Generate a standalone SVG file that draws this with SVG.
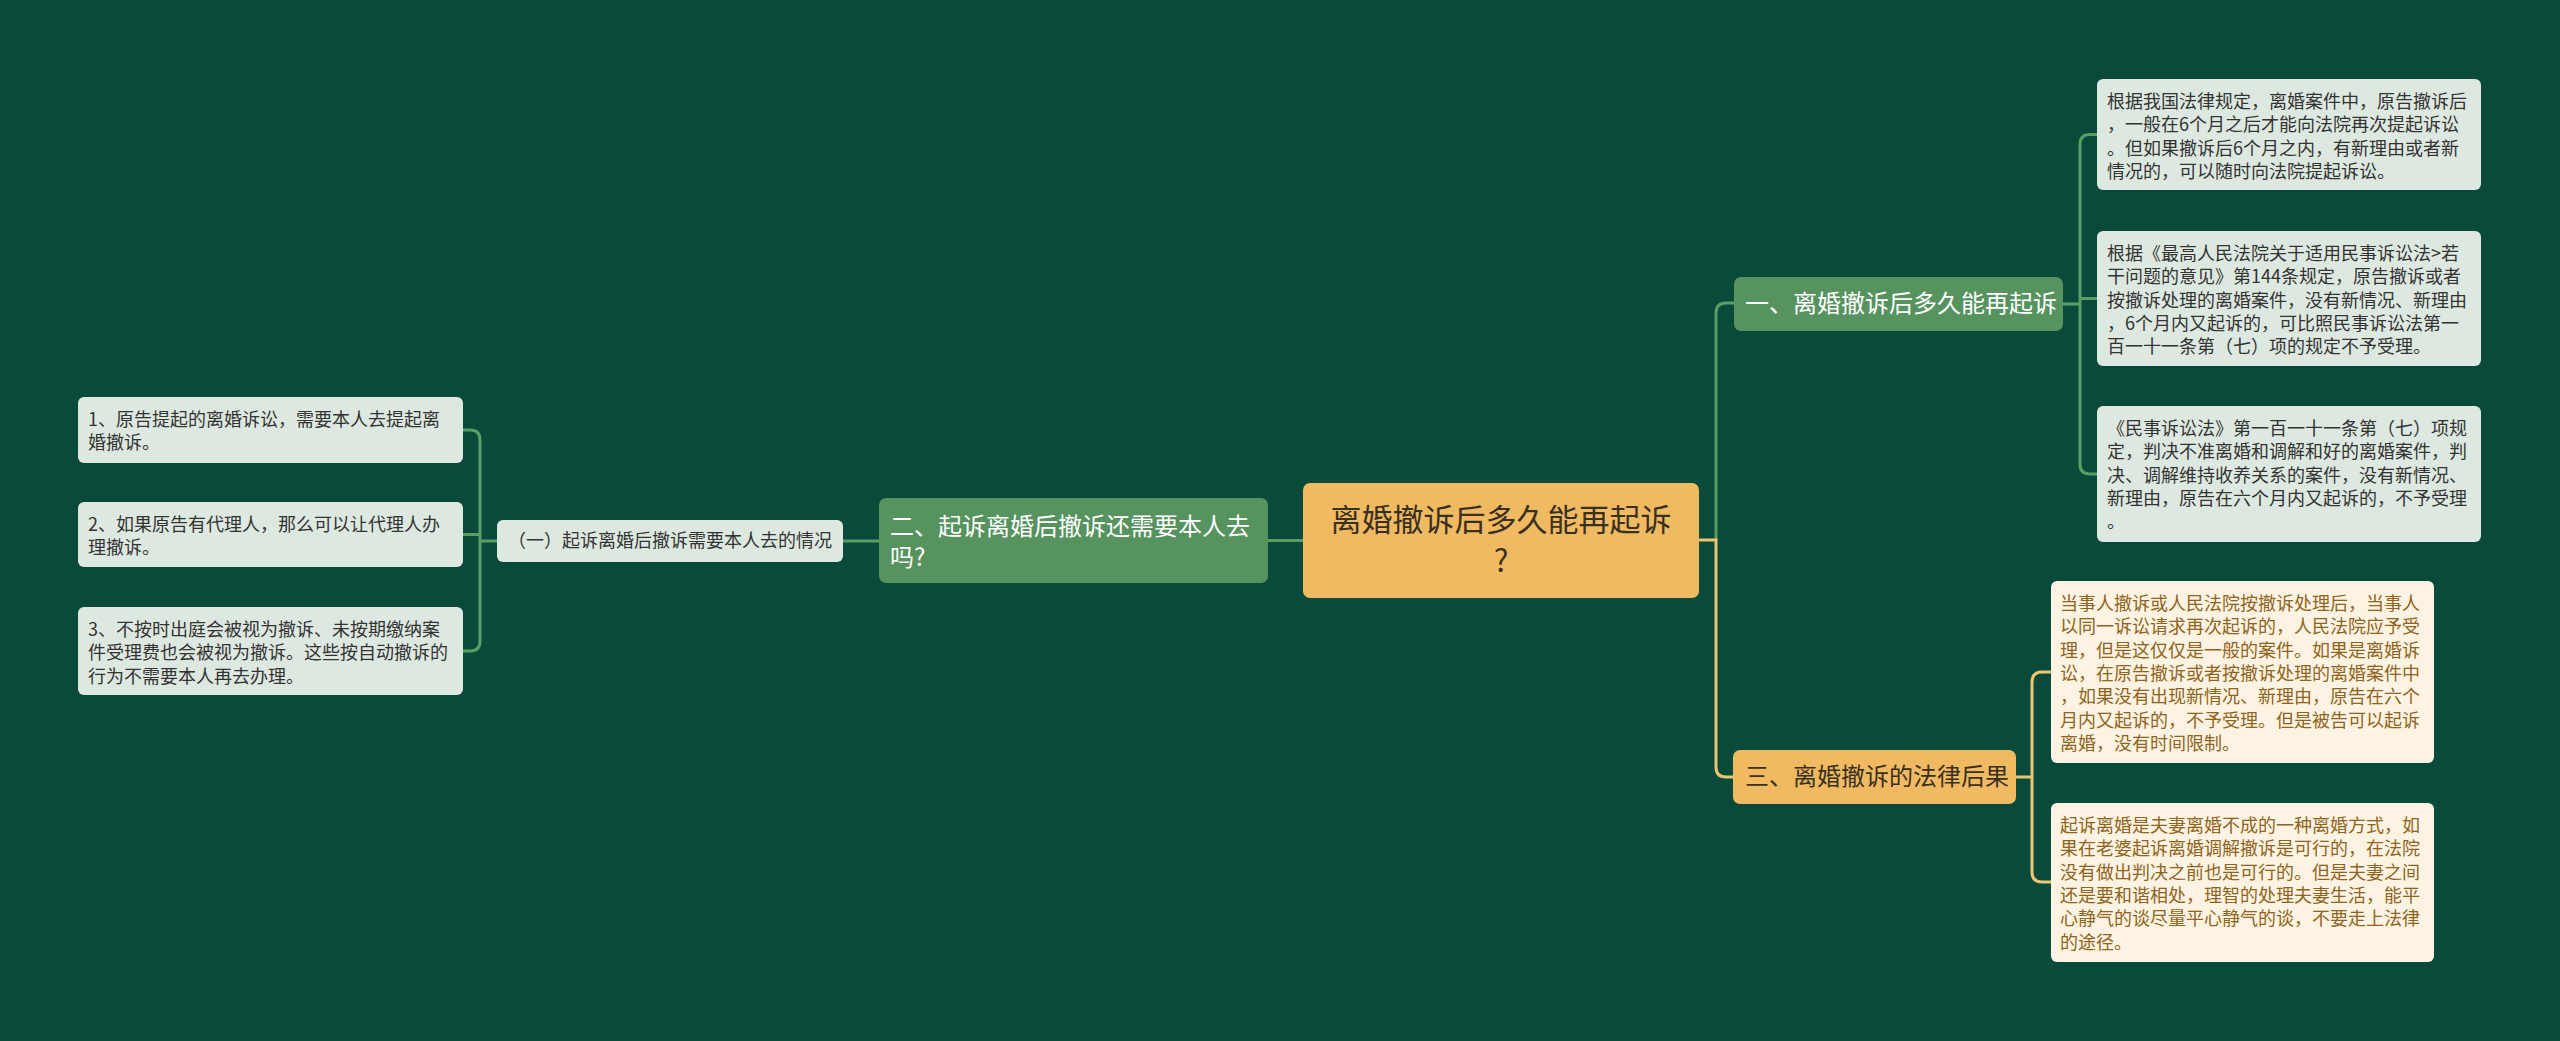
<svg xmlns="http://www.w3.org/2000/svg" width="2560" height="1041" viewBox="0 0 2560 1041">
<style>
text{font-family:"Noto Sans CJK SC","Noto Sans",sans-serif;}
.leafg{fill:#dde9e0;}
.leafo{fill:#fdf3e2;}
.tg{font-size:18px;fill:#333333;}
.to{font-size:18px;fill:#8f6420;}
.cg{fill:none;stroke:#5a9e66;stroke-width:3;}
.cy{fill:none;stroke:#eec470;stroke-width:3;}
</style>
<rect x="0" y="0" width="2560" height="1041" fill="#094a3a"/>
<g id="connectors">
<path class="cg" d="M1303 540.5 H1268"/>
<path class="cg" d="M879 541 H843"/>
<path class="cg" d="M497 541 H480"/>
<path class="cg" d="M463 430 H470 Q480 430 480 440 V641 Q480 651 470 651 H463"/>
<path class="cg" d="M463 534.5 H480"/>
<path class="cg" d="M1716 540 V313 Q1716 303 1726 303 H1734"/>
<path class="cy" d="M1699 540 H1716 V767 Q1716 777 1726 777 H1733"/>
<path class="cg" d="M2063 304 H2080"/>
<path class="cg" d="M2097 134.5 H2090 Q2080 134.5 2080 144.5 V464 Q2080 474 2090 474 H2097"/>
<path class="cg" d="M2080 298.5 H2097"/>
<path class="cy" d="M2016 777 H2032"/>
<path class="cy" d="M2051 672 H2042 Q2032 672 2032 682 V872 Q2032 882 2042 882 H2051"/>
</g>
<g id="center">
<rect x="1303" y="483" width="396" height="115" rx="7" fill="#f0ba62"/>
<text x="1501" y="531" font-size="31" fill="#3a3020" text-anchor="middle">离婚撤诉后多久能再起诉</text>
<text x="1501" y="572" font-size="31" fill="#3a3020" text-anchor="middle">?</text>
</g>
<g id="branch1">
<rect x="1734" y="277" width="329" height="54" rx="7" fill="#56935f"/>
<text x="1745" y="312" font-size="24" fill="#ffffff">一、离婚撤诉后多久能再起诉</text>
</g>
<g id="branch3">
<rect x="1733" y="750" width="283" height="54" rx="7" fill="#f0ba62"/>
<text x="1745" y="785" font-size="24" fill="#3a3020">三、离婚撤诉的法律后果</text>
</g>
<g id="branch2">
<rect x="879" y="498" width="389" height="85" rx="7" fill="#56935f"/>
<text x="890" y="535" font-size="24" fill="#ffffff">二、起诉离婚后撤诉还需要本人去</text>
<text x="890" y="566" font-size="24" fill="#ffffff">吗?</text>
</g>
<g id="sub1">
<rect x="497" y="520" width="346" height="42" rx="6" class="leafg"/>
<text x="670" y="547" class="tg" text-anchor="middle">（一）起诉离婚后撤诉需要本人去的情况</text>
</g>
<g id="leftleaf1">
<rect x="78" y="397" width="385" height="66" rx="6" class="leafg"/>
<text class="tg" x="88" y="426">1、原告提起的离婚诉讼，需要本人去提起离</text>
<text class="tg" x="88" y="449.3">婚撤诉。</text>
</g>
<g id="leftleaf2">
<rect x="78" y="502" width="385" height="65" rx="6" class="leafg"/>
<text class="tg" x="88" y="531">2、如果原告有代理人，那么可以让代理人办</text>
<text class="tg" x="88" y="554.3">理撤诉。</text>
</g>
<g id="leftleaf3">
<rect x="78" y="607" width="385" height="88" rx="6" class="leafg"/>
<text class="tg" x="88" y="636">3、不按时出庭会被视为撤诉、未按期缴纳案</text>
<text class="tg" x="88" y="659.3">件受理费也会被视为撤诉。这些按自动撤诉的</text>
<text class="tg" x="88" y="682.6">行为不需要本人再去办理。</text>
</g>
<g id="rightleaf1">
<rect x="2097" y="79" width="384" height="111" rx="6" class="leafg"/>
<text class="tg" x="2107" y="108">根据我国法律规定，离婚案件中，原告撤诉后</text>
<text class="tg" x="2107" y="131.3">，一般在6个月之后才能向法院再次提起诉讼</text>
<text class="tg" x="2107" y="154.6">。但如果撤诉后6个月之内，有新理由或者新</text>
<text class="tg" x="2107" y="177.9">情况的，可以随时向法院提起诉讼。</text>
</g>
<g id="rightleaf2">
<rect x="2097" y="231" width="384" height="135" rx="6" class="leafg"/>
<text class="tg" x="2107" y="260">根据《最高人民法院关于适用民事诉讼法&gt;若</text>
<text class="tg" x="2107" y="283.3">干问题的意见》第144条规定，原告撤诉或者</text>
<text class="tg" x="2107" y="306.6">按撤诉处理的离婚案件，没有新情况、新理由</text>
<text class="tg" x="2107" y="329.9">，6个月内又起诉的，可比照民事诉讼法第一</text>
<text class="tg" x="2107" y="353.2">百一十一条第（七）项的规定不予受理。</text>
</g>
<g id="rightleaf3">
<rect x="2097" y="406" width="384" height="136" rx="6" class="leafg"/>
<text class="tg" x="2107" y="435">《民事诉讼法》第一百一十一条第（七）项规</text>
<text class="tg" x="2107" y="458.3">定，判决不准离婚和调解和好的离婚案件，判</text>
<text class="tg" x="2107" y="481.6">决、调解维持收养关系的案件，没有新情况、</text>
<text class="tg" x="2107" y="504.9">新理由，原告在六个月内又起诉的，不予受理</text>
<text class="tg" x="2107" y="528.2">。</text>
</g>
<g id="rightleaf4">
<rect x="2051" y="581" width="383" height="182" rx="6" class="leafo"/>
<text class="to" x="2060" y="610">当事人撤诉或人民法院按撤诉处理后，当事人</text>
<text class="to" x="2060" y="633.3">以同一诉讼请求再次起诉的，人民法院应予受</text>
<text class="to" x="2060" y="656.6">理，但是这仅仅是一般的案件。如果是离婚诉</text>
<text class="to" x="2060" y="679.9">讼，在原告撤诉或者按撤诉处理的离婚案件中</text>
<text class="to" x="2060" y="703.2">，如果没有出现新情况、新理由，原告在六个</text>
<text class="to" x="2060" y="726.5">月内又起诉的，不予受理。但是被告可以起诉</text>
<text class="to" x="2060" y="749.8">离婚，没有时间限制。</text>
</g>
<g id="rightleaf5">
<rect x="2051" y="803" width="383" height="159" rx="6" class="leafo"/>
<text class="to" x="2060" y="832">起诉离婚是夫妻离婚不成的一种离婚方式，如</text>
<text class="to" x="2060" y="855.3">果在老婆起诉离婚调解撤诉是可行的，在法院</text>
<text class="to" x="2060" y="878.6">没有做出判决之前也是可行的。但是夫妻之间</text>
<text class="to" x="2060" y="901.9">还是要和谐相处，理智的处理夫妻生活，能平</text>
<text class="to" x="2060" y="925.2">心静气的谈尽量平心静气的谈，不要走上法律</text>
<text class="to" x="2060" y="948.5">的途径。</text>
</g>
</svg>
